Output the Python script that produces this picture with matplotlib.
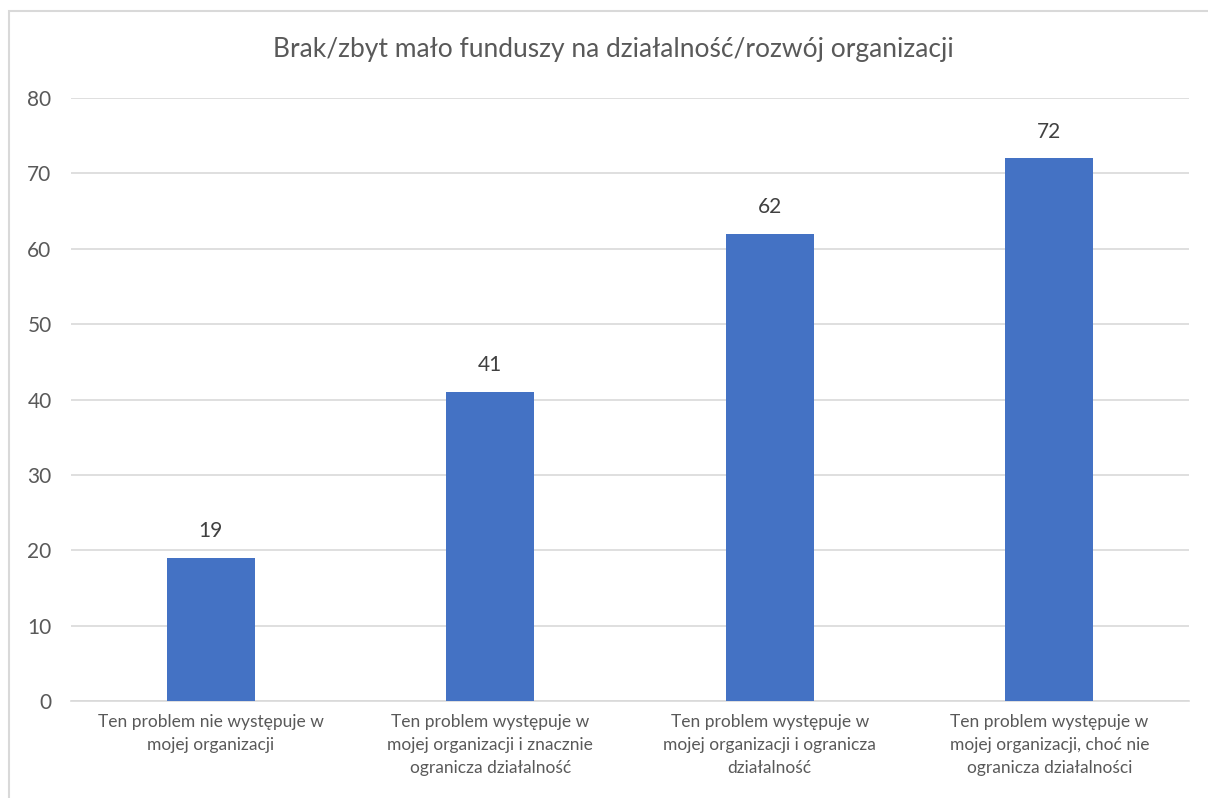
import matplotlib
matplotlib.use("Agg")
import matplotlib.pyplot as plt
from matplotlib.patches import Rectangle

plt.rcParams["font.family"] = ["Lato", "DejaVu Sans"]

# data
title = "Brak/zbyt mało funduszy na działalność/rozwój organizacji"
categories = [
    "Ten problem nie występuje w\nmojej organizacji",
    "Ten problem występuje w\nmojej organizacji i znacznie\nogranicza działalność",
    "Ten problem występuje w\nmojej organizacji i ogranicza\ndziałalność",
    "Ten problem występuje w\nmojej organizacji, choć nie\nogranicza działalności",
]
values = [19, 41, 62, 72]
yticks = [0, 10, 20, 30, 40, 50, 60, 70, 80]

W, H = 1208, 798
fig = plt.figure(figsize=(W / 100, H / 100), dpi=100)
ax = fig.add_axes([71 / W, 1 - 701 / H, (1189 - 71) / W, (701 - 98) / H])

# chart border (box runs off the right and bottom of the picture)
fig.patches.append(Rectangle((9 / W, -0.1), 1.2, 1 - 11 / H + 0.1,
                             transform=fig.transFigure, fill=False,
                             edgecolor="#D9D9D9", linewidth=1.5))

x = range(len(values))
ax.bar(x, values, width=0.315, color="#4472C4", zorder=3)
for i, v in enumerate(values):
    ax.text(i, v + 2.2, str(v), ha="center", va="bottom", fontsize=15, color="#404040")

ax.set_xlim(-0.5, len(values) - 0.5)
ax.set_ylim(0, 80)
ax.set_yticks(yticks)
ax.set_yticklabels([str(t) for t in yticks], fontsize=15, color="#595959")
ax.set_xticks(list(x))
ax.set_xticklabels(categories, fontsize=12.5, color="#595959", linespacing=1.55)
ax.tick_params(axis="both", length=0)
ax.tick_params(axis="y", pad=14)
ax.tick_params(axis="x", pad=9)
ax.grid(axis="y", color="#D9D9D9", linewidth=1.2, zorder=0)
for s in ["top", "right", "left"]:
    ax.spines[s].set_visible(False)
ax.spines["bottom"].set_color("#D9D9D9")
ax.spines["bottom"].set_linewidth(1.2)

fig.text(613 / W, 1 - 50 / H, title, ha="center", va="center", fontsize=19, color="#595959")

plt.savefig("out.png", dpi=100)
